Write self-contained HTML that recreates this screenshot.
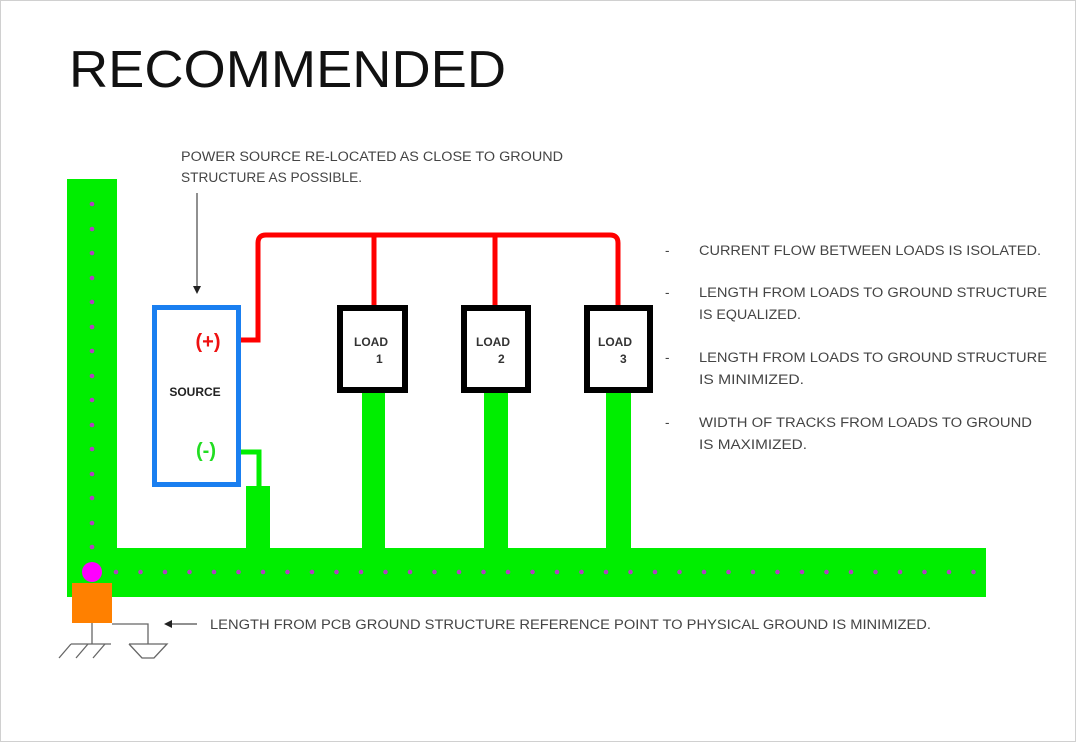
<!DOCTYPE html>
<html><head><style>
body{margin:0;background:#fff;}
.c{position:relative;width:1076px;height:742px;overflow:hidden;background:#fff;box-sizing:border-box;border:1px solid #d0d0d0;}
svg{position:absolute;left:0;top:0;}
</style></head><body><div class="c">
<svg width="1076" height="742" viewBox="0 0 1076 742" font-family="Liberation Sans, sans-serif">
<text x="68" y="86" font-size="52" fill="#111" textLength="437" lengthAdjust="spacingAndGlyphs">RECOMMENDED</text>
<g font-size="13.5" fill="#444">
<text x="180" y="160" textLength="382" lengthAdjust="spacingAndGlyphs">POWER SOURCE RE-LOCATED AS CLOSE TO GROUND</text>
<text x="180" y="181" textLength="181" lengthAdjust="spacingAndGlyphs">STRUCTURE AS POSSIBLE.</text>
<text x="664" y="254">-</text><text x="698" y="254" textLength="342" lengthAdjust="spacingAndGlyphs">CURRENT FLOW BETWEEN LOADS IS ISOLATED.</text>
<text x="664" y="296">-</text><text x="698" y="296" textLength="348" lengthAdjust="spacingAndGlyphs">LENGTH FROM LOADS TO GROUND STRUCTURE</text>
<text x="698" y="318" textLength="102" lengthAdjust="spacingAndGlyphs">IS EQUALIZED.</text>
<text x="664" y="361">-</text><text x="698" y="361" textLength="348" lengthAdjust="spacingAndGlyphs">LENGTH FROM LOADS TO GROUND STRUCTURE</text>
<text x="698" y="383" textLength="105" lengthAdjust="spacingAndGlyphs">IS MINIMIZED.</text>
<text x="664" y="426">-</text><text x="698" y="426" textLength="333" lengthAdjust="spacingAndGlyphs">WIDTH OF TRACKS FROM LOADS TO GROUND</text>
<text x="698" y="448" textLength="108" lengthAdjust="spacingAndGlyphs">IS MAXIMIZED.</text>
<text x="209" y="628" textLength="721" lengthAdjust="spacingAndGlyphs">LENGTH FROM PCB GROUND STRUCTURE REFERENCE POINT TO PHYSICAL GROUND IS MINIMIZED.</text>
</g>
<line x1="196" y1="192" x2="196" y2="286" stroke="#222" stroke-width="1"/>
<polygon points="192,285 200,285 196,293" fill="#222"/>
<line x1="170" y1="623" x2="196" y2="623" stroke="#222" stroke-width="1"/>
<polygon points="163,623 171,619 171,627" fill="#222"/>
<rect x="66" y="178" width="50" height="418" fill="#00ee00"/>
<rect x="66" y="547" width="919" height="49" fill="#00ee00"/>
<rect x="361" y="391" width="23" height="157" fill="#00ee00"/>
<rect x="483" y="391" width="24" height="157" fill="#00ee00"/>
<rect x="605" y="391" width="25" height="157" fill="#00ee00"/>
<rect x="245" y="485" width="24" height="63" fill="#00ee00"/>
<polyline points="239,451 258,451 258,487" fill="none" stroke="#00ee00" stroke-width="5"/>
<g fill="#b040c0">
<circle cx="91" cy="203" r="2.3"/><circle cx="91" cy="228" r="2.3"/><circle cx="91" cy="252" r="2.3"/><circle cx="91" cy="277" r="2.3"/><circle cx="91" cy="301" r="2.3"/><circle cx="91" cy="326" r="2.3"/><circle cx="91" cy="350" r="2.3"/><circle cx="91" cy="375" r="2.3"/><circle cx="91" cy="399" r="2.3"/><circle cx="91" cy="424" r="2.3"/><circle cx="91" cy="448" r="2.3"/><circle cx="91" cy="473" r="2.3"/><circle cx="91" cy="497" r="2.3"/><circle cx="91" cy="522" r="2.3"/><circle cx="91" cy="546" r="2.3"/>
</g>
<g fill="#b040c0" id="hd"></g>
<script>
var g=document.getElementById('hd');for(var x=115;x<980;x+=24.5){var c=document.createElementNS('http://www.w3.org/2000/svg','circle');c.setAttribute('cx',x);c.setAttribute('cy',571);c.setAttribute('r',2.3);g.appendChild(c);}
</script>
<circle cx="91" cy="571" r="10" fill="#ff00ff"/>
<rect x="71" y="582" width="40" height="40" fill="#ff8000"/>
<g stroke="#666" stroke-width="1.3" fill="none">
<polyline points="91,622 91,643"/><polyline points="111,623 147,623 147,643"/>
<line x1="70" y1="643" x2="110" y2="643"/>
<line x1="70" y1="643" x2="58" y2="657"/><line x1="87" y1="643" x2="75" y2="657"/><line x1="104" y1="643" x2="92" y2="657"/>
<polyline points="128,643 166,643 153,657 141,657 128,643"/>
</g>
<path d="M239,339 H257 V242 Q257,234 265,234 H609 Q617,234 617,242 V305" fill="none" stroke="#ff0000" stroke-width="5"/>
<line x1="373" y1="234" x2="373" y2="305" stroke="#ff0000" stroke-width="5"/>
<line x1="494" y1="234" x2="494" y2="305" stroke="#ff0000" stroke-width="5"/>
<rect x="153.5" y="306.5" width="84" height="177" fill="#fff" stroke="#1a7ff0" stroke-width="5"/>
<text x="207" y="347" font-size="20" fill="#ee1111" font-weight="bold" text-anchor="middle">(+)</text>
<text x="194" y="395" font-size="12" fill="#222" font-weight="bold" text-anchor="middle">SOURCE</text>
<text x="205" y="456" font-size="20" fill="#22dd22" font-weight="bold" text-anchor="middle">(-)</text>
<g fill="#fff" stroke="#000" stroke-width="6">
<rect x="339" y="307" width="65" height="82"/>
<rect x="463" y="307" width="64" height="82"/>
<rect x="586" y="307" width="63" height="82"/>
</g>
<g font-size="12" fill="#333" font-weight="bold">
<text x="353" y="345">LOAD</text><text x="375" y="362">1</text>
<text x="475" y="345">LOAD</text><text x="497" y="362">2</text>
<text x="597" y="345">LOAD</text><text x="619" y="362">3</text>
</g>
</svg>
</div></body></html>
